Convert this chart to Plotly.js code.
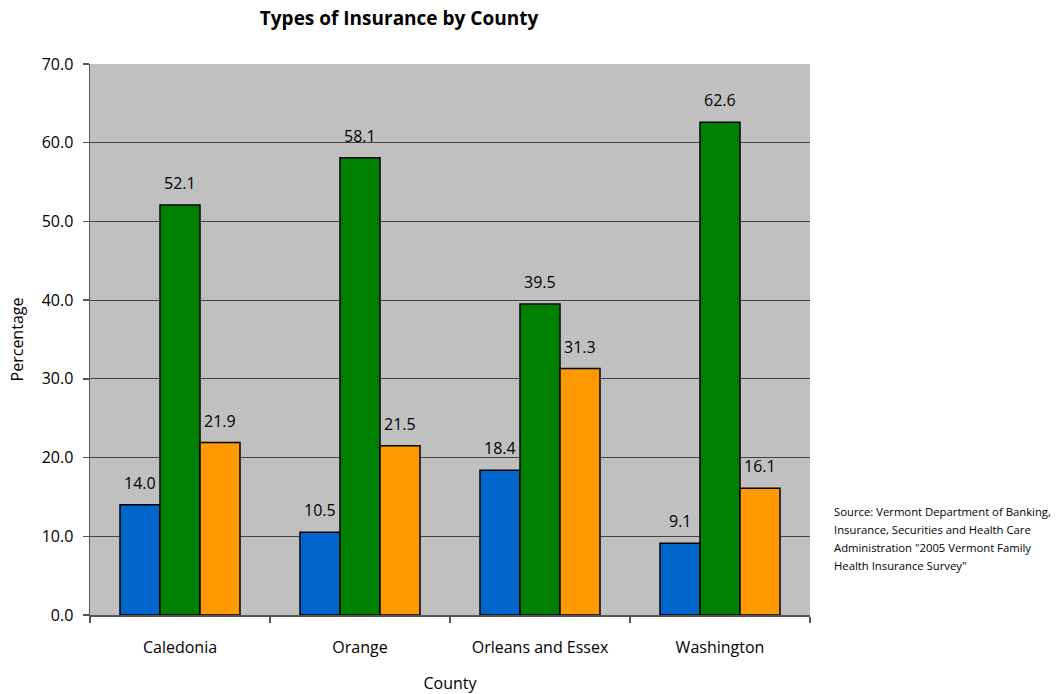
<!DOCTYPE html>
<html>
<head>
<meta charset="utf-8">
<script src="https://cdn.plot.ly/plotly-3.0.1.min.js"></script>
<style>html,body{margin:0;padding:0;background:#fff;}#chart{width:1059px;height:694px;}</style>
</head>
<body>
<div id="chart"></div>
<script>
// Counties and insurance-type percentages
const counties = ["Caledonia", "Orange", "Orleans and Essex", "Washington"];
const seriesA = [14.0, 10.5, 18.4, 9.1];
const seriesB = [52.1, 58.1, 39.5, 62.6];
const seriesC = [21.9, 21.5, 31.3, 16.1];
const yTicks = [0, 10, 20, 30, 40, 50, 60, 70];
const sourceLines = [
  "Source: Vermont Department of Banking,",
  "Insurance, Securities and Health Care",
  "Administration \"2005 Vermont Family",
  "Health Insurance Survey\""
];

const font = "Open Sans, Liberation Sans, sans-serif";
const colors = ["#0066CC", "#008000", "#FF9900"];
const series = [seriesA, seriesB, seriesC];
const offsets = [-40, 0, 40];

const traces = series.map((vals, i) => ({
  type: "bar",
  x: counties,
  y: vals,
  marker: { color: colors[i], line: { color: "#000", width: 1.5 } },
  hoverinfo: "x+y",
  showlegend: false
}));

// value labels above each bar
const annotations = [];
series.forEach((vals, i) => {
  vals.forEach((v, j) => {
    annotations.push({
      x: counties[j], y: v, xref: "x", yref: "y",
      text: v.toFixed(1), showarrow: false,
      xshift: offsets[i], yshift: 22,
      font: { family: font, size: 16, color: "#000" }
    });
  });
});

// source note, one line per annotation for even spacing
sourceLines.forEach((line, k) => {
  annotations.push({
    xref: "paper", yref: "paper", x: 1.0306, y: 0.187, xanchor: "left", yanchor: "middle",
    yshift: -18 * k, align: "left", showarrow: false,
    text: line,
    font: { family: font, size: 11.3, color: "#000" }
  });
});

const layout = {
  width: 1059, height: 694,
  margin: { l: 90, r: 249, t: 64, b: 79 },
  paper_bgcolor: "#fff",
  plot_bgcolor: "#C0C0C0",
  barmode: "group",
  bargap: 1/3,
  bargroupgap: 0,
  title: {
    text: "<b>Types of Insurance by County</b>",
    x: 399/1059, xref: "container", xanchor: "center",
    y: 1 - 18/694, yref: "container", yanchor: "middle",
    font: { family: font, size: 19, color: "#000" }
  },
  xaxis: {
    type: "category",
    tickson: "boundaries",
    ticks: "outside", ticklen: 6, tickcolor: "#555", tickwidth: 1.5,
    showline: true, linecolor: "#555", linewidth: 1.5,
    showgrid: false,
    ticklabelstandoff: 17,
    tickfont: { family: font, size: 16, color: "#000" },
    title: { text: "County", font: { family: font, size: 16, color: "#000" }, standoff: 22 }
  },
  yaxis: {
    range: [0, 70],
    tickvals: yTicks,
    ticktext: yTicks.map(v => v.toFixed(1)),
    ticks: "outside", ticklen: 6, tickcolor: "#555", tickwidth: 1.5,
    showline: true, linecolor: "#555", linewidth: 1.5,
    showgrid: true, gridcolor: "#444", gridwidth: 1,
    zeroline: false,
    ticklabelstandoff: 6,
    tickfont: { family: font, size: 16, color: "#000" },
    title: { text: "Percentage", font: { family: font, size: 16, color: "#000" }, standoff: 14 }
  },
  annotations: annotations
};

Plotly.newPlot("chart", traces, layout, { displayModeBar: false, staticPlot: true });
</script>
</body>
</html>
